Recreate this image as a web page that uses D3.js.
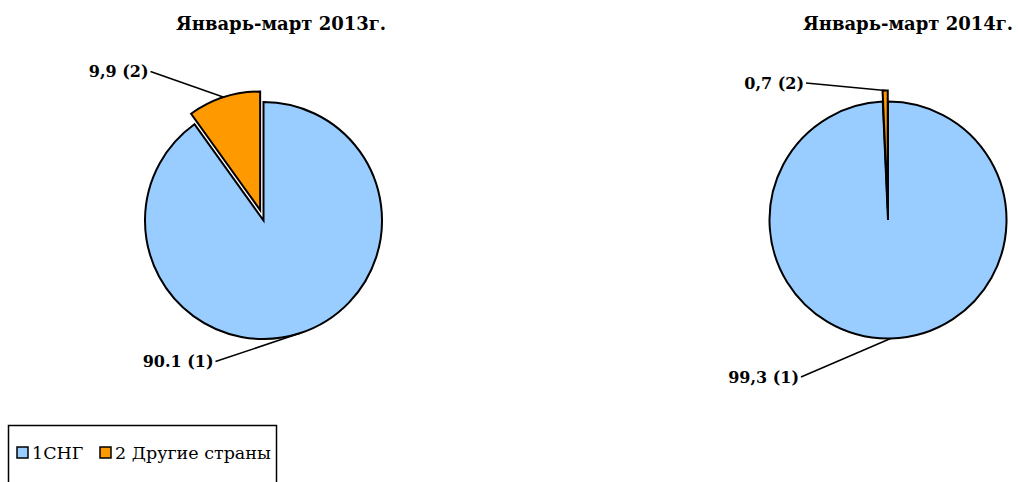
<!DOCTYPE html>
<html>
<head>
<meta charset="utf-8">
<script src="https://cdn.jsdelivr.net/npm/d3@7"></script>
<style>
  body { margin: 0; background: #fff; }
  text { font-family: "DejaVu Serif", "Liberation Serif", serif; }
</style>
</head>
<body>
<svg id="chart" width="1018" height="482"></svg>
<script>
// Data
const categories = ['1СНГ', '2 Другие страны'];
const years = ['Январь-март 2013г.', 'Январь-март 2014г.'];
const values2013 = [90.1, 9.9];
const values2014 = [99.3, 0.7];
const labels2013 = ['90.1 (1)', '9,9 (2)'];
const labels2014 = ['99,3 (1)', '0,7 (2)'];

const COLORS = ['#99CCFF', '#FF9900'];
const RADIUS = 118.5;
const EXPLODE = 11;

const svg = d3.select('#chart');

const pie = d3.pie().sort(null).value(d => d);
const arc = d3.arc().innerRadius(0).outerRadius(RADIUS);

/**
 * Draw one pie with its title and leader-line labels.
 */
function drawPie (values, labels, title, cx, cy, titleX, labelPos) {
  const g = svg.append('g').attr('transform', `translate(${cx},${cy})`);
  const arcs = pie(values);

  svg.append('text')
    .attr('x', titleX)
    .attr('y', 30)
    .attr('text-anchor', 'middle')
    .attr('font-size', 18)
    .attr('font-weight', 'bold')
    .text(title);

  const offset = (d, i) => {
    if (i === 0) return [0, 0];
    const mid = (d.startAngle + d.endAngle) / 2;
    return [Math.sin(mid) * EXPLODE, -Math.cos(mid) * EXPLODE];
  };

  g.selectAll('path.slice-gap')
    .data(arcs)
    .join('path')
      .attr('class', 'slice-gap')
      .attr('transform', (d, i) => `translate(${offset(d, i)})`)
      .attr('d', arc)
      .attr('fill', 'none')
      .attr('stroke', '#fff')
      .attr('stroke-width', 6)
      .attr('stroke-linejoin', 'miter');

  g.selectAll('path.slice')
    .data(arcs)
    .join('path')
      .attr('class', 'slice')
      .attr('transform', (d, i) => `translate(${offset(d, i)})`)
      .attr('d', arc)
      .attr('fill', (d, i) => COLORS[i])
      .attr('stroke', '#000')
      .attr('stroke-width', 2)
      .attr('stroke-linejoin', 'miter');

  // Leader lines and labels
  arcs.forEach((d, i) => {
    const mid = (d.startAngle + d.endAngle) / 2;
    const [ox, oy] = offset(d, i);
    const px = ox + Math.sin(mid) * RADIUS;
    const py = oy - Math.cos(mid) * RADIUS;
    const [lx, ly] = labelPos[i];

    g.append('line')
      .attr('x1', lx + 2).attr('y1', ly)
      .attr('x2', px).attr('y2', py)
      .attr('stroke', '#000')
      .attr('stroke-width', 1.5);

    g.append('text')
      .attr('x', lx)
      .attr('y', ly)
      .attr('dy', '0.35em')
      .attr('text-anchor', 'end')
      .attr('font-size', 16)
      .attr('font-weight', 'bold')
      .text(labels[i]);
  });
}

drawPie(values2013, labels2013, years[0], 263.5, 220.5, 281, [[-50, 141], [-115, -149]]);
drawPie(values2014, labels2014, years[1], 888, 220, 908, [[-89, 157], [-84, -137]]);

// Legend
const legend = svg.append('g').attr('transform', 'translate(8,425)');
legend.append('rect')
  .attr('x', 0.5).attr('y', 0.5)
  .attr('width', 268).attr('height', 62)
  .attr('fill', '#fff')
  .attr('stroke', '#000')
  .attr('stroke-width', 1.5);

const legendX = [9, 92];
const items = legend.selectAll('g.item')
  .data(categories)
  .join('g')
    .attr('class', 'item')
    .attr('transform', (d, i) => `translate(${legendX[i]},22)`);

items.append('rect')
  .attr('width', 11).attr('height', 11)
  .attr('fill', (d, i) => COLORS[i])
  .attr('stroke', '#000')
  .attr('stroke-width', 1.5);

items.append('text')
  .attr('x', 15)
  .attr('y', 6)
  .attr('dy', '0.35em')
  .attr('font-size', 17.5)
  .text(d => d);
</script>
</body>
</html>
